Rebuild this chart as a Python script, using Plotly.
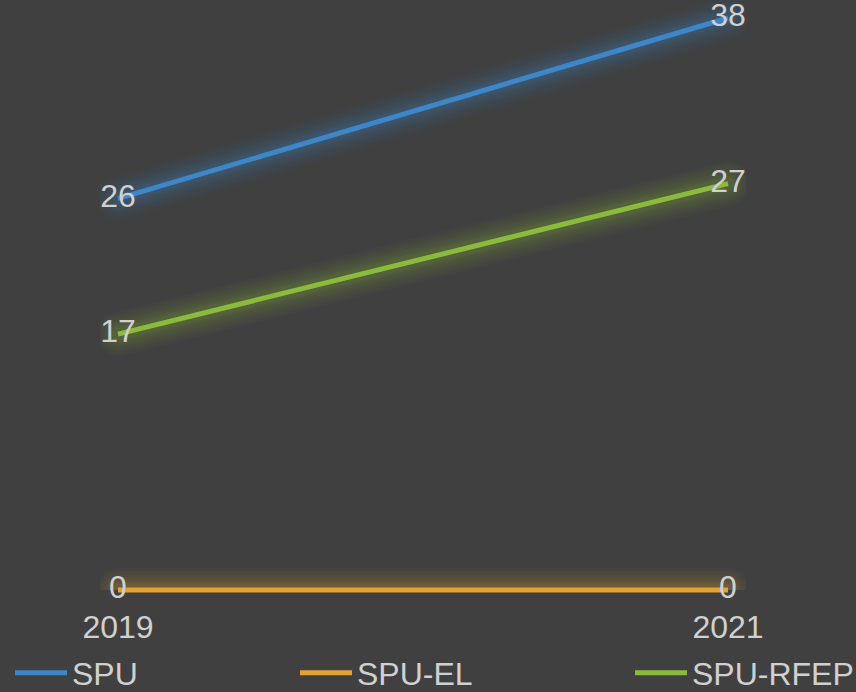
import plotly.graph_objects as go

years = ["2019", "2021"]
x_vals = [2019, 2021]
spu = [26, 38]
spu_el = [0, 0]
spu_rfep = [17, 27]

names = ["SPU", "SPU-EL", "SPU-RFEP"]
colors = ["#3d87c9", "#e3a232", "#8cba3c"]
series = [spu, spu_el, spu_rfep]

BG = "#404040"
TXT = "#d0d0d0"
FONT = "Arial, Liberation Sans, sans-serif"
FS = 32

W, H = 856, 692
# pixel geometry
x0_px, x1_px = 118, 728      # 2019 / 2021
y0_px, y38_px = 590, 18      # value 0 / value 38
ml, mr, mt, mb = 100, 110, 0, 92
pw = W - ml - mr
ph = H - mt - mb

ux = (x1_px - x0_px) / 2.0          # px per year
uy = (y0_px - y38_px) / 38.0        # px per unit
xr = [2019 - (x0_px - ml) / ux, 2021 + (W - mr - x1_px) / ux]
y2r = [-(H - mb - y0_px) / uy, 38 + (y38_px - mt) / uy]
yr = [0, y2r[1]]
ydom = [(H - mb - y0_px) / ph, 1]

fig = go.Figure()

# soft glow layers (clipped at the zero baseline), round ends via markers
glow = [(44, 0.03), (38, 0.035), (32, 0.04), (26, 0.045), (21, 0.05), (16, 0.06), (12, 0.07)]
for vals, col in zip(series, colors):
    for w, op in glow:
        fig.add_trace(go.Scatter(x=x_vals, y=vals, mode="lines+markers",
                                 line=dict(color=col, width=w),
                                 marker=dict(color=col, size=w, line=dict(width=0)),
                                 opacity=op, showlegend=False, hoverinfo="skip",
                                 xaxis="x", yaxis="y"))

legend_ids = ["legend", "legend2", "legend3"]
for vals, col, name, lg in zip(series, colors, names, legend_ids):
    fig.add_trace(go.Scatter(x=x_vals, y=vals, mode="lines+text", name=name,
                             line=dict(color=col, width=5),
                             text=[str(v) for v in vals],
                             textposition="middle center",
                             textfont=dict(size=FS, color=TXT, family=FONT),
                             cliponaxis=False, legend=lg,
                             xaxis="x", yaxis="y2"))

leg_common = dict(orientation="h", xanchor="left", yanchor="middle",
                  xref="container", yref="container",
                  bgcolor="rgba(0,0,0,0)", font=dict(size=FS, color=TXT, family=FONT),
                  itemwidth=52, tracegroupgap=0)
leg_y = 1 - 673 / H

fig.update_layout(
    width=W, height=H,
    paper_bgcolor=BG, plot_bgcolor="rgba(0,0,0,0)",
    margin=dict(l=ml, r=mr, t=mt, b=mb, autoexpand=False),
    font=dict(family=FONT, color=TXT),
    xaxis=dict(range=xr, tickvals=x_vals, ticktext=years, anchor="y2",
               showgrid=False, zeroline=False, showline=False, automargin=False,
               tickfont=dict(size=FS, color=TXT, family=FONT),
               ticklabelstandoff=5),
    yaxis=dict(range=yr, domain=ydom, showgrid=False, zeroline=False, automargin=False,
               showline=False, showticklabels=False, anchor="x"),
    yaxis2=dict(range=y2r, domain=[0, 1], showgrid=False, zeroline=False, automargin=False,
                showline=False, showticklabels=False, anchor="x"),
    legend=dict(x=10 / W, y=leg_y, **leg_common),
    legend2=dict(x=295 / W, y=leg_y, **leg_common),
    legend3=dict(x=630 / W, y=leg_y, **leg_common),
    showlegend=True,
)

fig.write_html("out.html", config={"displayModeBar": False},
               post_script="document.body.style.margin='0';document.body.style.overflow='hidden';")
